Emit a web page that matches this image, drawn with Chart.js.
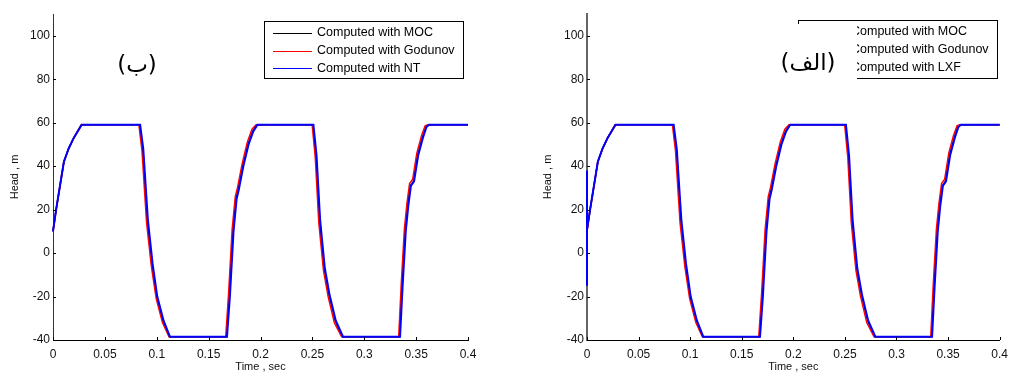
<!DOCTYPE html>
<html>
<head>
<meta charset="utf-8">
<script src="https://cdn.jsdelivr.net/npm/chart.js@4.4.1/dist/chart.umd.min.js"></script>
<style>
  body { margin: 0; background: #fff; }
  .row { display: flex; width: 1015px; height: 376px; }
</style>
</head>
<body>
<div class="row">
  <div style="width:507px;height:376px"><canvas id="chartNT" width="507" height="376"></canvas></div>
  <div style="width:508px;height:376px"><canvas id="chartLXF" width="508" height="376"></canvas></div>
</div>
<script>
// Tick labels
const xTicks = [0, 0.05, 0.1, 0.15, 0.2, 0.25, 0.3, 0.35, 0.4];
const yTicks = [-40, -20, 0, 20, 40, 60, 80, 100];

// MOC (black)
const tMoc = [0, 0.003, 0.0105, 0.015, 0.02, 0.0275, 0.0835, 0.0865, 0.091, 0.0955, 0.1, 0.106, 0.1123, 0.1672, 0.170, 0.1735, 0.1765, 0.1785, 0.183, 0.188, 0.1925, 0.1965, 0.2505, 0.2535, 0.257, 0.2615, 0.266, 0.272, 0.279, 0.334, 0.3365, 0.3395, 0.342, 0.3445, 0.3475, 0.3515, 0.356, 0.3595, 0.362, 0.4];
const hMoc = [10, 20, 42, 48, 53, 59, 59, 48, 15, -5, -20, -31, -38.5, -38.5, -20, 10, 25, 29, 40, 50, 56, 59, 59, 45, 15, -7, -19, -31, -38.5, -38.5, -15, 10, 22, 31, 33, 45, 53, 58, 59, 59];

// Godunov (red)
const tGod = [0, 0.003, 0.0105, 0.015, 0.02, 0.0272, 0.0828, 0.0858, 0.0902, 0.0948, 0.0995, 0.1055, 0.1118, 0.1665, 0.1692, 0.1727, 0.1757, 0.1778, 0.1823, 0.1873, 0.1918, 0.1958, 0.2498, 0.2528, 0.2562, 0.2607, 0.2652, 0.2712, 0.2782, 0.3332, 0.3357, 0.3387, 0.3412, 0.3437, 0.3467, 0.3507, 0.3552, 0.3587, 0.3612, 0.4];
const hGod = [10, 20, 42, 48, 53, 59, 59, 47, 14, -6, -21, -32, -38.5, -38.5, -19, 11, 26, 30, 41, 51, 57, 59, 59, 44, 14, -8, -20, -32, -38.5, -38.5, -14, 11, 23, 32, 34, 46, 54, 58.5, 59, 59];

// NT (blue, left)
const tNt = [0, 0.003, 0.0105, 0.015, 0.02, 0.0277, 0.084, 0.087, 0.0915, 0.096, 0.1005, 0.1065, 0.1127, 0.1677, 0.1705, 0.174, 0.177, 0.179, 0.1835, 0.1885, 0.193, 0.197, 0.251, 0.254, 0.2575, 0.262, 0.2665, 0.2725, 0.2795, 0.3345, 0.337, 0.34, 0.3425, 0.345, 0.348, 0.352, 0.3565, 0.36, 0.3625, 0.4];
const hNt = [10, 20, 42, 48, 53, 59, 59, 48, 15, -5, -20, -31, -38.5, -38.5, -20, 10, 25, 29, 40, 50, 56, 59, 59, 45, 15, -7, -19, -31, -38.5, -38.5, -15, 10, 22, 31, 33, 45, 53, 58, 59, 59];

// LXF (blue, right) - spike at t = 0
const tLxf = [0, 0, 0, 0.003, 0.0105, 0.015, 0.02, 0.0277, 0.084, 0.087, 0.0915, 0.096, 0.1005, 0.1065, 0.1127, 0.1677, 0.1705, 0.174, 0.177, 0.179, 0.1835, 0.1885, 0.193, 0.197, 0.251, 0.254, 0.2575, 0.262, 0.2665, 0.2725, 0.2795, 0.3345, 0.337, 0.34, 0.3425, 0.345, 0.348, 0.352, 0.3565, 0.36, 0.3625, 0.4];
const hLxf = [38, -15, 11, 20, 42, 48, 53, 59, 59, 48, 15, -5, -20, -31, -38.5, -38.5, -20, 10, 25, 29, 40, 50, 56, 59, 59, 45, 15, -7, -19, -31, -38.5, -38.5, -15, 10, 22, 31, 33, 45, 53, 58, 59, 59];

const toPoints = (t, h) => t.map((x, i) => ({ x: x, y: h[i] }));

// inward tick marks + legend box + arabic label
const decor = {
  id: 'decor',
  afterDraw(chart, args, opts) {
    const ctx = chart.ctx;
    const a = chart.chartArea;
    const xs = chart.scales.x, ys = chart.scales.y;
    ctx.save();
    ctx.strokeStyle = '#000';
    ctx.lineWidth = 1;
    ctx.beginPath();
    xTicks.forEach(v => {
      const p = Math.round(xs.getPixelForValue(v)) + 0.5;
      ctx.moveTo(p, a.bottom); ctx.lineTo(p, a.bottom - 3);
    });
    yTicks.forEach(v => {
      const p = Math.round(ys.getPixelForValue(v)) + 0.5;
      ctx.moveTo(a.left, p); ctx.lineTo(a.left + 3, p);
    });
    ctx.stroke();

    // legend
    const L = opts.legend;
    ctx.fillStyle = '#fff';
    ctx.fillRect(L.x, L.y, L.w, L.h);
    ctx.strokeStyle = '#000';
    ctx.strokeRect(L.x + 0.5, L.y + 0.5, L.w, L.h);
    ctx.font = '12.5px "Liberation Sans", Arial, sans-serif';
    ctx.textBaseline = 'middle';
    ctx.textAlign = 'left';
    opts.items.forEach((it, i) => {
      const y = L.y + 12 + i * 17.7;
      ctx.strokeStyle = it.color;
      ctx.beginPath();
      ctx.moveTo(L.x + 9, Math.round(y) + 0.5);
      ctx.lineTo(L.x + 48, Math.round(y) + 0.5);
      ctx.stroke();
      ctx.fillStyle = '#000';
      ctx.fillText(it.text, L.x + 53, y);
    });

    // arabic panel label
    const T = opts.label;
    if (T.bg) {
      ctx.fillStyle = '#fff';
      ctx.fillRect(T.bg[0], T.bg[1], T.bg[2], T.bg[3]);
    }
    ctx.fillStyle = '#000';
    ctx.direction = 'ltr';
    ctx.textAlign = 'center';
    ctx.font = '23px "DejaVu Sans", sans-serif';
    ctx.fillText(T.text, T.x, T.y);
    ctx.restore();
  }
};

function makeChart(id, blueLabel, blueT, blueH, padLeft, yWidth, padRight, spine, legend, label) {
  const ctx = document.getElementById(id).getContext('2d');
  return new Chart(ctx, {
    type: 'line',
    data: {
      datasets: [
        { label: blueLabel, data: toPoints(blueT, blueH), borderColor: '#0000ff', borderWidth: 2, order: 0, clip: 4 },
        { label: 'Computed with Godunov', data: toPoints(tGod, hGod), borderColor: '#ff0000', borderWidth: 1.5, order: 1, clip: 4 },
        { label: 'Computed with MOC', data: toPoints(tMoc, hMoc), borderColor: '#000000', borderWidth: 1.5, order: 2, clip: 4 },
      ],
    },
    options: {
      responsive: false,
      animation: false,
      events: [],
      elements: { point: { radius: 0 }, line: { tension: 0 } },
      layout: { autoPadding: false, padding: { left: padLeft, right: padRight, top: 14, bottom: 0 } },
      plugins: {
        legend: { display: false },
        tooltip: { enabled: false },
        decor: {
          legend: legend,
          items: [
            { color: '#000000', text: 'Computed with MOC' },
            { color: '#ff0000', text: 'Computed with Godunov' },
            { color: '#0000ff', text: blueLabel },
          ],
          label: label,
        },
      },
      scales: {
        x: {
          type: 'linear',
          min: 0, max: 0.4,
          grid: { display: false, drawTicks: false },
          border: { display: true, color: '#000', width: 1 },
          ticks: {
            stepSize: 0.05, padding: 7, color: '#111',
            font: { family: '"Liberation Sans", Arial, sans-serif', size: 12 },
            callback: v => String(+v.toFixed(2)),
          },
          title: { display: true, text: 'Time , sec', color: '#111', padding: { top: 2, bottom: 2 },
                   font: { family: '"Liberation Sans", Arial, sans-serif', size: 11 } },
          afterFit: s => { s.height = 36; },
        },
        y: {
          min: -40, max: 110,
          grid: { display: false, drawTicks: false },
          border: { display: true, color: spine.color, width: spine.width },
          ticks: {
            stepSize: 20, padding: 3, color: '#111',
            font: { family: '"Liberation Sans", Arial, sans-serif', size: 12 },
          },
          afterBuildTicks: s => { s.ticks = s.ticks.filter(t => t.value <= 100); },
          title: { display: true, text: 'Head , m', color: '#111', padding: { top: 4, bottom: 0 },
                   font: { family: '"Liberation Sans", Arial, sans-serif', size: 11 } },
          afterFit: s => { s.width = yWidth; },
        },
      },
    },
    plugins: [decor],
  });
}

makeChart('chartNT', 'Computed with NT', tNt, hNt, 4, 49, 39,
  { color: '#333', width: 1 },
  { x: 264, y: 21, w: 199, h: 57 },
  { text: '(ب)', x: 137, y: 66 });

makeChart('chartLXF', 'Computed with LXF', tLxf, hLxf, 30, 50, 14,
  { color: '#666', width: 2 },
  { x: 291, y: 20, w: 199, h: 58 },
  { text: '(الف)', x: 301, y: 64, bg: [263, 24, 87, 58] });
</script>
</body>
</html>
